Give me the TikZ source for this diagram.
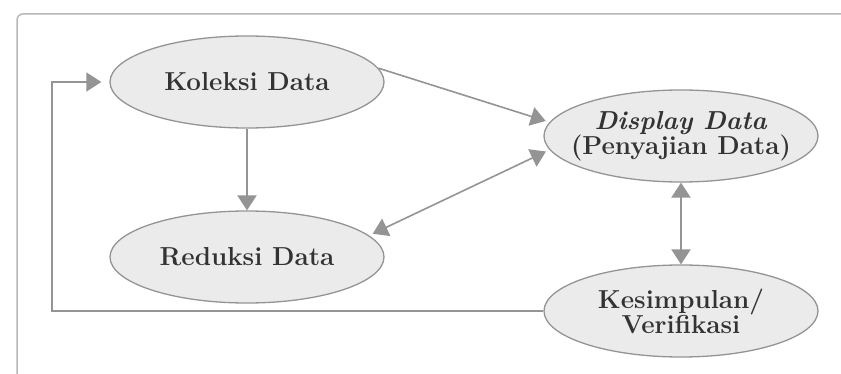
\documentclass[tikz,border=0pt]{standalone}
\usepackage{fontspec}
\usepackage{xcolor}
\usepackage{tikz}
\usetikzlibrary{arrows.meta,positioning,shapes.geometric}

\definecolor{garis}{gray}{0.58}
\definecolor{isi}{gray}{0.92}
\definecolor{teks}{gray}{0.2}
\definecolor{bingkai}{gray}{0.72}

\tikzset{
  tahap/.style={ellipse, draw=garis, line width=1.3pt, fill=isi,
    minimum width=274pt, minimum height=92pt, inner sep=0pt},
  tulisan/.style={text=teks, align=center, inner sep=0pt,
    font=\fontsize{26}{25}\selectfont\bfseries},
  panah/.style={draw=garis, line width=2.2pt, -{Triangle[width=19pt,length=15pt]}},
  panahdua/.style={draw=garis, line width=2.2pt,
    {Triangle[width=19pt,length=15pt]}-{Triangle[width=19pt,length=15pt]}}
}

\begin{document}
\begin{tikzpicture}[x=1pt, y=-1pt]
\useasboundingbox (0,0) rectangle (841,374);
\fill[white] (0,0) rectangle (841,374);
\draw[bingkai, line width=1.5pt, rounded corners=6pt] (17,374) -- (17,14) -- (841,14);

\node[tahap] (koleksi) at (247,82) {};
\node[tahap] (reduksi) at (247,257) {};
\node[tahap] (display) at (681,136) {};
\node[tahap] (simpulan) at (681,311) {};
\node[tulisan] (koleksi-t) at (koleksi) {Koleksi Data};
\node[tulisan] (reduksi-t) at (reduksi) {Reduksi Data};
\node[tulisan] (display-t) at (display) {\textit{Display Data}\\(Penyajian Data)};
\node[tulisan] (simpulan-t) at (simpulan) {Kesimpulan/\\Verifikasi};
\coordinate (balik) at (52,200);

\draw[panah] (koleksi) -- (reduksi);
\draw[panah, line width=1.6pt, shorten >=4pt] (koleksi.6) -- (display.174);
\draw[panahdua, line width=1.6pt, shorten >=4pt, shorten <=4pt] (reduksi.10) -- (display.186);
\draw[panahdua] (display) -- (simpulan);
\draw[panah, line width=1.6pt, shorten >=8pt] (simpulan.west) -| (balik) |- (koleksi.west);
\end{tikzpicture}
\end{document}
